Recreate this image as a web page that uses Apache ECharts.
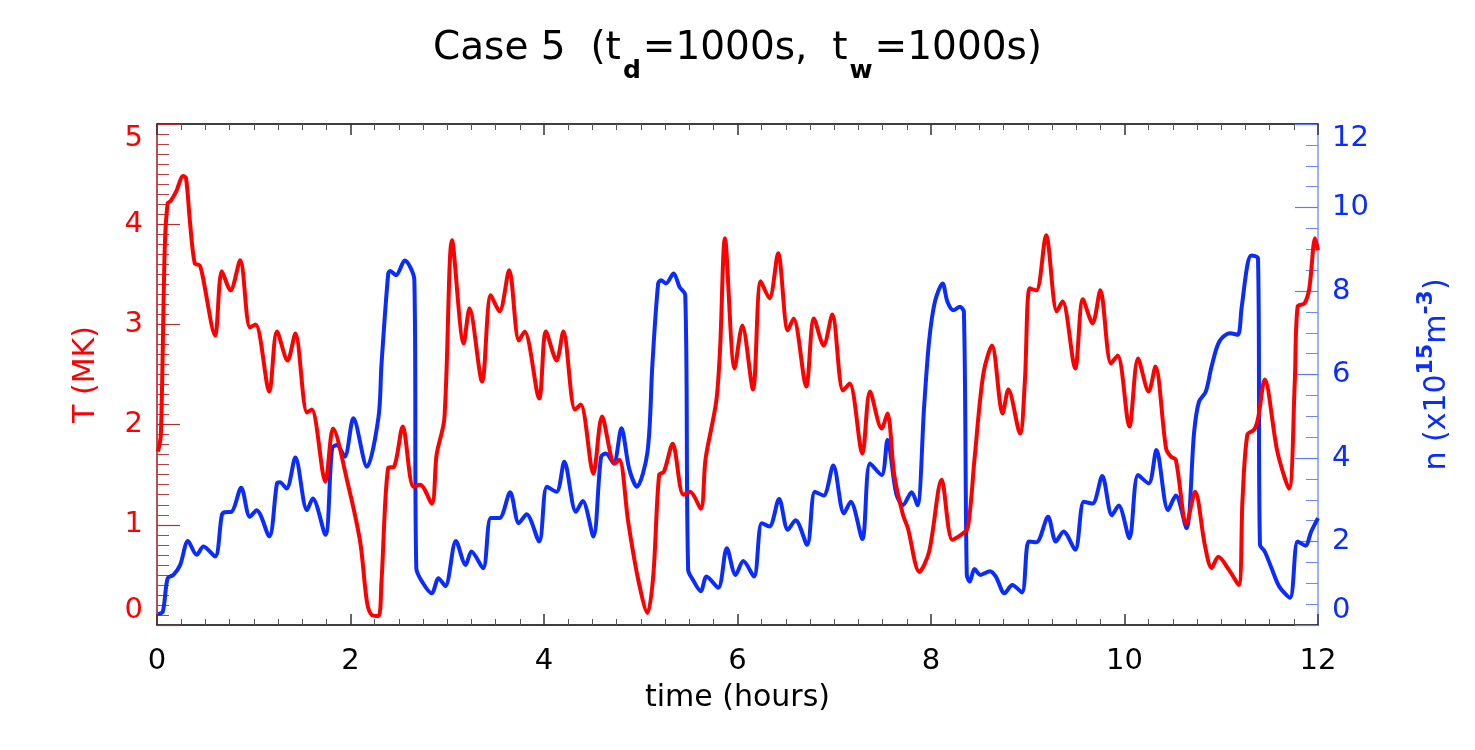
<!DOCTYPE html>
<html>
<head>
<meta charset="utf-8">
<script src="https://cdn.jsdelivr.net/npm/echarts@6/dist/echarts.min.js"></script>
<style>
  html, body { margin: 0; padding: 0; background: #fff; }
  #chart { width: 1475px; height: 750px; }
</style>
</head>
<body>
<div id="chart"></div>
<script>
// temperature (MK)
var tempHours = [
  0.01,0.04,0.08,0.11,0.14,0.20,0.27,0.30,0.34,0.39,
  0.44,0.47,0.60,0.67,0.76,0.86,0.96,1.02,1.16,1.24,
  1.35,1.43,1.55,1.60,1.74,1.82,1.97,2.10,2.17,2.22,
  2.29,2.32,2.39,2.45,2.54,2.65,2.72,2.84,2.89,2.97,
  3.05,3.17,3.23,3.36,3.45,3.54,3.64,3.74,3.80,3.95,
  4.02,4.13,4.20,4.32,4.38,4.51,4.60,4.73,4.78,4.87,
  4.97,5.07,5.13,5.19,5.24,5.33,5.44,5.51,5.62,5.67,
  5.78,5.82,5.87,5.97,6.05,6.16,6.24,6.33,6.42,6.52,
  6.58,6.71,6.79,6.89,6.98,7.09,7.16,7.29,7.37,7.49,
  7.55,7.62,7.71,7.76,7.88,7.98,8.11,8.22,8.31,8.38,
  8.45,8.54,8.63,8.74,8.80,8.92,8.97,9.02,9.09,9.19,
  9.30,9.36,9.49,9.57,9.67,9.75,9.86,9.93,10.05,10.14,
  10.25,10.32,10.43,10.48,10.53,10.64,10.73,10.83,10.90,10.97,
  11.08,11.18,11.22,11.27,11.34,11.38,11.45,11.58,11.70,11.76,
  11.79,11.86,11.91,11.97,12.0
];
var tempMK = [
  1.73,1.90,3.76,4.21,4.23,4.33,4.48,4.46,4.03,3.61,
  3.59,3.49,2.89,3.53,3.34,3.64,2.97,3.00,2.33,2.93,
  2.64,2.91,2.12,2.15,1.43,1.96,1.42,0.83,0.23,0.10,
  0.09,0.43,1.57,1.58,1.98,1.38,1.40,1.21,1.70,2.06,
  3.84,2.81,3.16,2.43,3.29,3.13,3.54,2.84,2.93,2.26,
  2.93,2.64,2.93,2.15,2.20,1.51,2.08,1.61,1.65,1.03,
  0.47,0.12,0.50,1.50,1.53,1.81,1.30,1.33,1.16,1.66,
  2.23,2.76,3.86,2.56,2.99,2.35,3.43,3.26,3.71,2.94,
  3.06,2.38,3.06,2.79,3.10,2.34,2.41,1.71,2.33,1.96,
  2.11,1.50,1.10,0.97,0.53,0.73,1.45,0.85,0.90,0.97,
  1.66,2.50,2.79,2.11,2.35,1.91,2.43,3.36,3.34,3.89,
  3.13,3.23,2.56,3.25,3.01,3.34,2.61,2.69,1.98,2.66,
  2.33,2.58,1.76,1.68,1.65,1.01,1.33,0.80,0.57,0.68,
  0.55,0.40,1.26,1.90,1.95,2.06,2.45,1.73,1.36,2.43,
  3.18,3.21,3.36,3.86,3.74
];

// density (x10^15 m^-3)
var densHours = [
  0.01,0.06,0.11,0.17,0.24,0.32,0.41,0.48,0.60,0.67,
  0.70,0.77,0.87,0.96,1.03,1.16,1.24,1.27,1.34,1.43,
  1.55,1.61,1.74,1.81,1.86,1.94,2.03,2.17,2.29,2.32,
  2.39,2.41,2.47,2.56,2.66,2.68,2.75,2.84,2.91,2.98,
  3.09,3.19,3.25,3.37,3.45,3.54,3.65,3.74,3.82,3.95,
  4.03,4.13,4.21,4.33,4.40,4.51,4.59,4.64,4.72,4.80,
  4.88,4.96,5.07,5.12,5.18,5.21,5.26,5.34,5.40,5.46,
  5.49,5.54,5.62,5.68,5.80,5.89,5.98,6.06,6.17,6.25,
  6.33,6.43,6.52,6.60,6.72,6.80,6.89,6.99,7.10,7.17,
  7.29,7.37,7.49,7.55,7.64,7.71,7.80,7.86,7.93,7.98,
  8.04,8.12,8.17,8.23,8.30,8.34,8.37,8.40,8.45,8.51,
  8.61,8.67,8.76,8.84,8.94,9.01,9.09,9.21,9.29,9.37,
  9.49,9.58,9.67,9.77,9.87,9.94,10.05,10.14,10.25,10.33,
  10.45,10.53,10.64,10.72,10.77,10.84,10.90,10.98,11.09,11.17,
  11.21,11.27,11.31,11.38,11.40,11.45,11.52,11.60,11.71,11.79,
  11.87,11.93,12.0
];
var density = [
  0.26,0.32,1.12,1.20,1.44,2.01,1.68,1.88,1.64,2.63,
  2.70,2.71,3.29,2.59,2.75,2.12,3.39,3.42,3.27,4.01,
  2.75,3.03,2.16,4.23,4.31,4.03,4.95,3.79,4.99,6.23,
  8.42,8.48,8.38,8.73,8.26,1.36,1.00,0.76,1.12,0.93,
  2.01,1.44,1.76,1.36,2.56,2.56,3.18,2.44,2.65,2.00,
  3.31,3.19,3.91,2.71,2.97,2.12,4.03,4.11,3.87,4.71,
  3.75,3.31,4.15,6.23,8.18,8.26,8.18,8.42,8.10,7.90,
  1.32,1.08,0.81,1.16,0.89,1.84,1.20,1.53,1.16,2.44,
  2.36,3.02,2.28,2.51,1.92,3.19,3.10,3.82,2.67,2.95,
  2.06,3.87,3.59,4.43,3.15,2.87,3.18,2.87,5.27,6.79,
  7.74,8.18,7.74,7.54,7.62,7.50,1.20,1.04,1.34,1.20,
  1.29,1.16,0.76,0.96,0.78,2.00,1.98,2.59,2.00,2.24,
  1.80,2.95,2.91,3.57,2.63,2.86,2.08,3.59,3.39,4.19,
  2.75,3.10,2.32,4.63,5.35,5.59,6.19,6.79,6.99,6.95,
  7.59,8.62,8.85,8.78,1.92,1.76,1.36,0.92,0.65,2.00,
  1.90,2.24,2.56
];

var RED = '#ff0000';
var BLUE = '#0a2cff';
var FONT = 'DejaVu Sans';

var chart = echarts.init(document.getElementById('chart'));

var options = {
    animation: false,
    backgroundColor: '#fff',
    title: {
        text: '{n|Case 5  (t}{s|d}{n|=1000s,  t}{s|w}{n|=1000s)}',
        left: 'center',
        top: 18,
        textStyle: {
            fontWeight: 'normal',
            rich: {
                n: { fontFamily: FONT, fontSize: 39, fontWeight: 'normal', color: '#000', lineHeight: 52 },
                s: { fontFamily: FONT, fontSize: 25, color: '#000', fontWeight: 'bold', padding: [44, 2, 0, 2], lineHeight: 52 }
            }
        }
    },
    grid: { left: 157, right: 157, top: 124, bottom: 125 },
    xAxis: [
        {
            type: 'value',
            min: 0,
            max: 12,
            interval: 2,
            position: 'bottom',
            name: 'time (hours)',
            nameLocation: 'middle',
            nameGap: 58,
            nameTextStyle: { fontFamily: FONT, fontSize: 30, color: '#000' },
            axisLine: { onZero: false, lineStyle: { color: '#000', width: 1.5 } },
            axisTick: { inside: true, length: 11, lineStyle: { color: '#333', width: 1.5 } },
            minorTick: { show: true, splitNumber: 8, length: 6, lineStyle: { color: '#555', width: 1 } },
            axisLabel: { fontFamily: FONT, fontSize: 29, color: '#000', margin: 22 },
            splitLine: { show: false }
        },
        {
            type: 'value',
            min: 0,
            max: 12,
            interval: 2,
            position: 'top',
            axisLine: { onZero: false, lineStyle: { color: '#000', width: 1.5 } },
            axisTick: { inside: true, length: 11, lineStyle: { color: '#333', width: 1.5 } },
            minorTick: { show: true, splitNumber: 8, length: 6, lineStyle: { color: '#555', width: 1 } },
            axisLabel: { show: false },
            splitLine: { show: false }
        }
    ],
    yAxis: [
        {
            type: 'value',
            min: 0,
            max: 5,
            interval: 1,
            position: 'left',
            name: 'T (MK)',
            nameLocation: 'middle',
            nameRotate: 90,
            nameGap: 56,
            nameTextStyle: { fontFamily: FONT, fontSize: 30, color: RED },
            axisLine: { onZero: false, lineStyle: { color: '#a01818', width: 1.5 } },
            axisTick: { inside: true, length: 23, lineStyle: { color: '#b03030', width: 1.2 } },
            minorTick: { show: true, splitNumber: 10, length: 12, lineStyle: { color: '#b84040', width: 1 } },
            axisLabel: {
                fontFamily: FONT, fontSize: 29, color: RED, margin: 14,
                verticalAlignMinLabel: 'bottom', verticalAlignMaxLabel: 'top'
            },
            splitLine: { show: false }
        },
        {
            type: 'value',
            min: 0,
            max: 12,
            interval: 2,
            position: 'right',
            name: '{a|n (x10}{b|15}{a|m}{b|-3}{a|)}',
            nameLocation: 'middle',
            nameRotate: 90,
            nameGap: 97,
            nameTextStyle: {
                rich: {
                    a: { fontFamily: FONT, fontSize: 30, color: BLUE, lineHeight: 44 },
                    b: { fontFamily: FONT, fontSize: 22, color: BLUE, fontWeight: 'bold', padding: [0, 0, 22, 0], lineHeight: 44 }
                }
            },
            axisLine: { onZero: false, lineStyle: { color: '#9fb0ff', width: 2 } },
            axisTick: { inside: true, length: 23, lineStyle: { color: '#5f78ff', width: 1.2 } },
            minorTick: { show: true, splitNumber: 4, length: 12, lineStyle: { color: '#6f86ff', width: 1 } },
            axisLabel: {
                fontFamily: FONT, fontSize: 29, color: BLUE, margin: 14,
                verticalAlignMinLabel: 'bottom', verticalAlignMaxLabel: 'top'
            },
            splitLine: { show: false }
        }
    ],
    series: [
        {
            type: 'line',
            name: 'T',
            xAxisIndex: 0,
            yAxisIndex: 0,
            data: tempHours.map(function (t, i) { return [t, tempMK[i]]; }),
            symbol: 'none',
            smooth: 0.3,
            lineStyle: { color: RED, width: 4 },
            z: 3
        },
        {
            type: 'line',
            name: 'n',
            xAxisIndex: 0,
            yAxisIndex: 1,
            data: densHours.map(function (t, i) { return [t, density[i]]; }),
            symbol: 'none',
            smooth: 0.3,
            lineStyle: { color: BLUE, width: 4 },
            z: 2
        }
    ]
};

chart.setOption(options);
</script>
</body>
</html>
